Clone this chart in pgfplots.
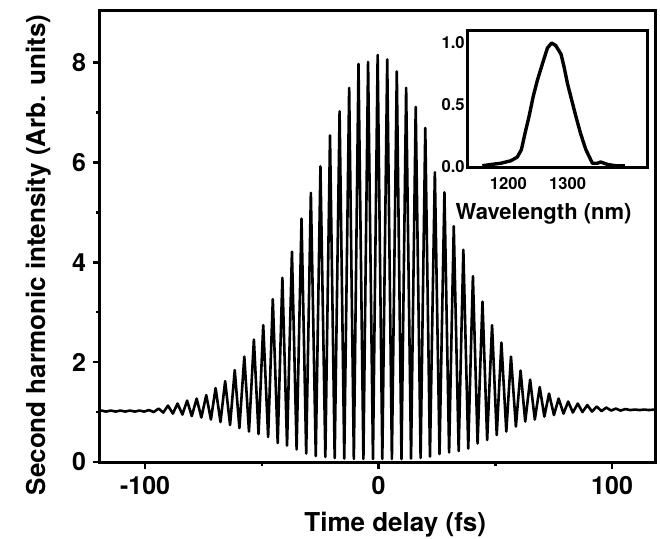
\documentclass[border=0pt]{standalone}
\usepackage{fontspec}
\setmainfont{TeX Gyre Heros}
\usepackage{pgfplots}
\pgfplotsset{compat=1.18}

\begin{document}
\begin{tikzpicture}
% main autocorrelation trace
\begin{axis}[
    scale only axis,
    width=278pt, height=226pt,
    at={(0,0)}, anchor=south west,
    xmin=-119.3, xmax=118.8,
    ymin=0, ymax=9.05,
    xtick={-100,0,100}, minor xtick={-50,50},
    ytick={0,2,4,6,8}, minor ytick={1,3,5,7},
    tick pos=left, tick align=outside,
    major tick length=3.5pt, minor tick length=2pt,
    every tick/.style={black, line width=1.3pt},
    axis line style={line width=1.5pt},
    /pgf/number format/assume math mode=true,
    tick label style={font=\bfseries\fontsize{12.5}{14}\selectfont},
    xlabel={Time delay (fs)},
    ylabel={Second harmonic intensity (Arb. units)},
    label style={font=\bfseries\fontsize{13}{15}\selectfont},
    xlabel style={at={(axis description cs:0.531,-0.154)}, anchor=base},
    ylabel style={at={(axis description cs:-0.0989,0.458)}, anchor=base},
]
\addplot[black, line width=1.3pt, line join=round] coordinates {
(-120,1.02) (-118.7,1.03) (-116.7,1.01) (-114.6,1.03) (-112.6,1.01) (-110.6,1.03)
(-108.5,1.01) (-106.5,1.03) (-104.4,1.01) (-102.4,1.03) (-100.4,1.01) (-98.3,1.04)
(-96.3,1.00) (-94.2,1.07) (-92.2,0.99) (-90.2,1.13) (-88.1,0.97) (-86.1,1.17)
(-84.0,0.95) (-82.0,1.23) (-80.0,0.92) (-77.9,1.27) (-75.9,0.89) (-73.8,1.34)
(-71.8,0.85) (-69.8,1.48) (-67.7,0.80) (-65.7,1.62) (-63.6,0.74) (-61.6,1.84)
(-59.6,0.68) (-57.5,2.11) (-55.5,0.61) (-53.4,2.45) (-51.4,0.56) (-49.4,2.74)
(-47.3,0.50) (-45.3,3.26) (-43.2,0.38) (-41.2,3.69) (-39.2,0.33) (-37.1,4.21)
(-35.1,0.25) (-33.0,4.87) (-31.0,0.17) (-29.0,5.39) (-26.9,0.12) (-24.9,5.92)
(-22.8,0.10) (-20.8,6.54) (-18.8,0.08) (-16.7,7.02) (-14.7,0.07) (-12.6,7.49)
(-10.6,0.06) (-8.6,7.97) (-6.5,0.06) (-4.5,8.01) (-2.4,0.06) (-0.4,8.15)
(1.6,0.06) (3.7,8.06) (5.7,0.06) (7.8,7.82) (9.8,0.06) (11.8,7.49)
(13.9,0.07) (15.9,7.11) (18.0,0.08) (20.0,6.69) (22.0,0.11) (24.1,5.80)
(26.1,0.16) (28.2,5.40) (30.2,0.19) (32.2,4.72) (34.3,0.22) (36.3,4.25)
(38.4,0.27) (40.4,3.72) (42.4,0.37) (44.5,3.21) (46.5,0.44) (48.6,2.74)
(50.6,0.54) (52.6,2.39) (54.7,0.61) (56.7,2.11) (58.8,0.71) (60.8,1.83)
(62.8,0.81) (64.9,1.65) (66.9,0.85) (69.0,1.50) (71.0,0.91) (73.0,1.37)
(75.1,0.94) (77.1,1.27) (79.2,0.97) (81.2,1.21) (83.2,0.99) (85.3,1.17)
(87.3,1.00) (89.4,1.14) (91.4,1.01) (93.4,1.11) (95.5,1.02) (97.5,1.09)
(99.6,1.03) (101.6,1.07) (103.6,1.03) (105.7,1.06) (107.7,1.04) (109.8,1.05)
(111.8,1.04) (113.8,1.05) (115.9,1.04) (117.9,1.05) (119,1.05)
};
\end{axis}

% inset: spectrum
\begin{axis}[
    scale only axis,
    width=90.5pt, height=68.5pt,
    at={(183.5pt,147.5pt)}, anchor=south west,
    xmin=1130, xmax=1436,
    ymin=0, ymax=1.105,
    xtick={1200,1300}, ytick={0,0.5,1},
    major tick length=0pt,
    axis line style={line width=1.5pt},
    /pgf/number format/assume math mode=true,
    /pgf/number format/1000 sep={},
    tick label style={font=\bfseries\fontsize{8.3}{9}\selectfont},
    xticklabel style={yshift=-1.8pt},
    yticklabel style={inner sep=1pt, /pgf/number format/fixed,
        /pgf/number format/fixed zerofill, /pgf/number format/precision=1},
    xlabel={Wavelength (nm)},
    xlabel style={font=\bfseries\fontsize{11}{13}\selectfont,
        at={(axis description cs:0.423,-0.38)}, anchor=base},
]
\addplot[black, line width=1.7pt, line join=round] coordinates {
(1156,0.01) (1170,0.02) (1187,0.03) (1204,0.05) (1215,0.08) (1222,0.14)
(1228,0.27) (1235,0.41) (1242,0.57) (1249,0.70) (1258,0.84) (1266,0.96)
(1273,1.00) (1280,0.98) (1289,0.91) (1294,0.81) (1300,0.67) (1307,0.54)
(1314,0.41) (1322,0.27) (1331,0.14) (1342,0.03) (1350,0.03) (1356,0.04)
(1368,0.02) (1382,0.01) (1397,0.01)
};
\end{axis}

\pgfresetboundingbox
\useasboundingbox (-50pt,-38pt) rectangle (280pt,231pt);
\end{tikzpicture}
\end{document}
